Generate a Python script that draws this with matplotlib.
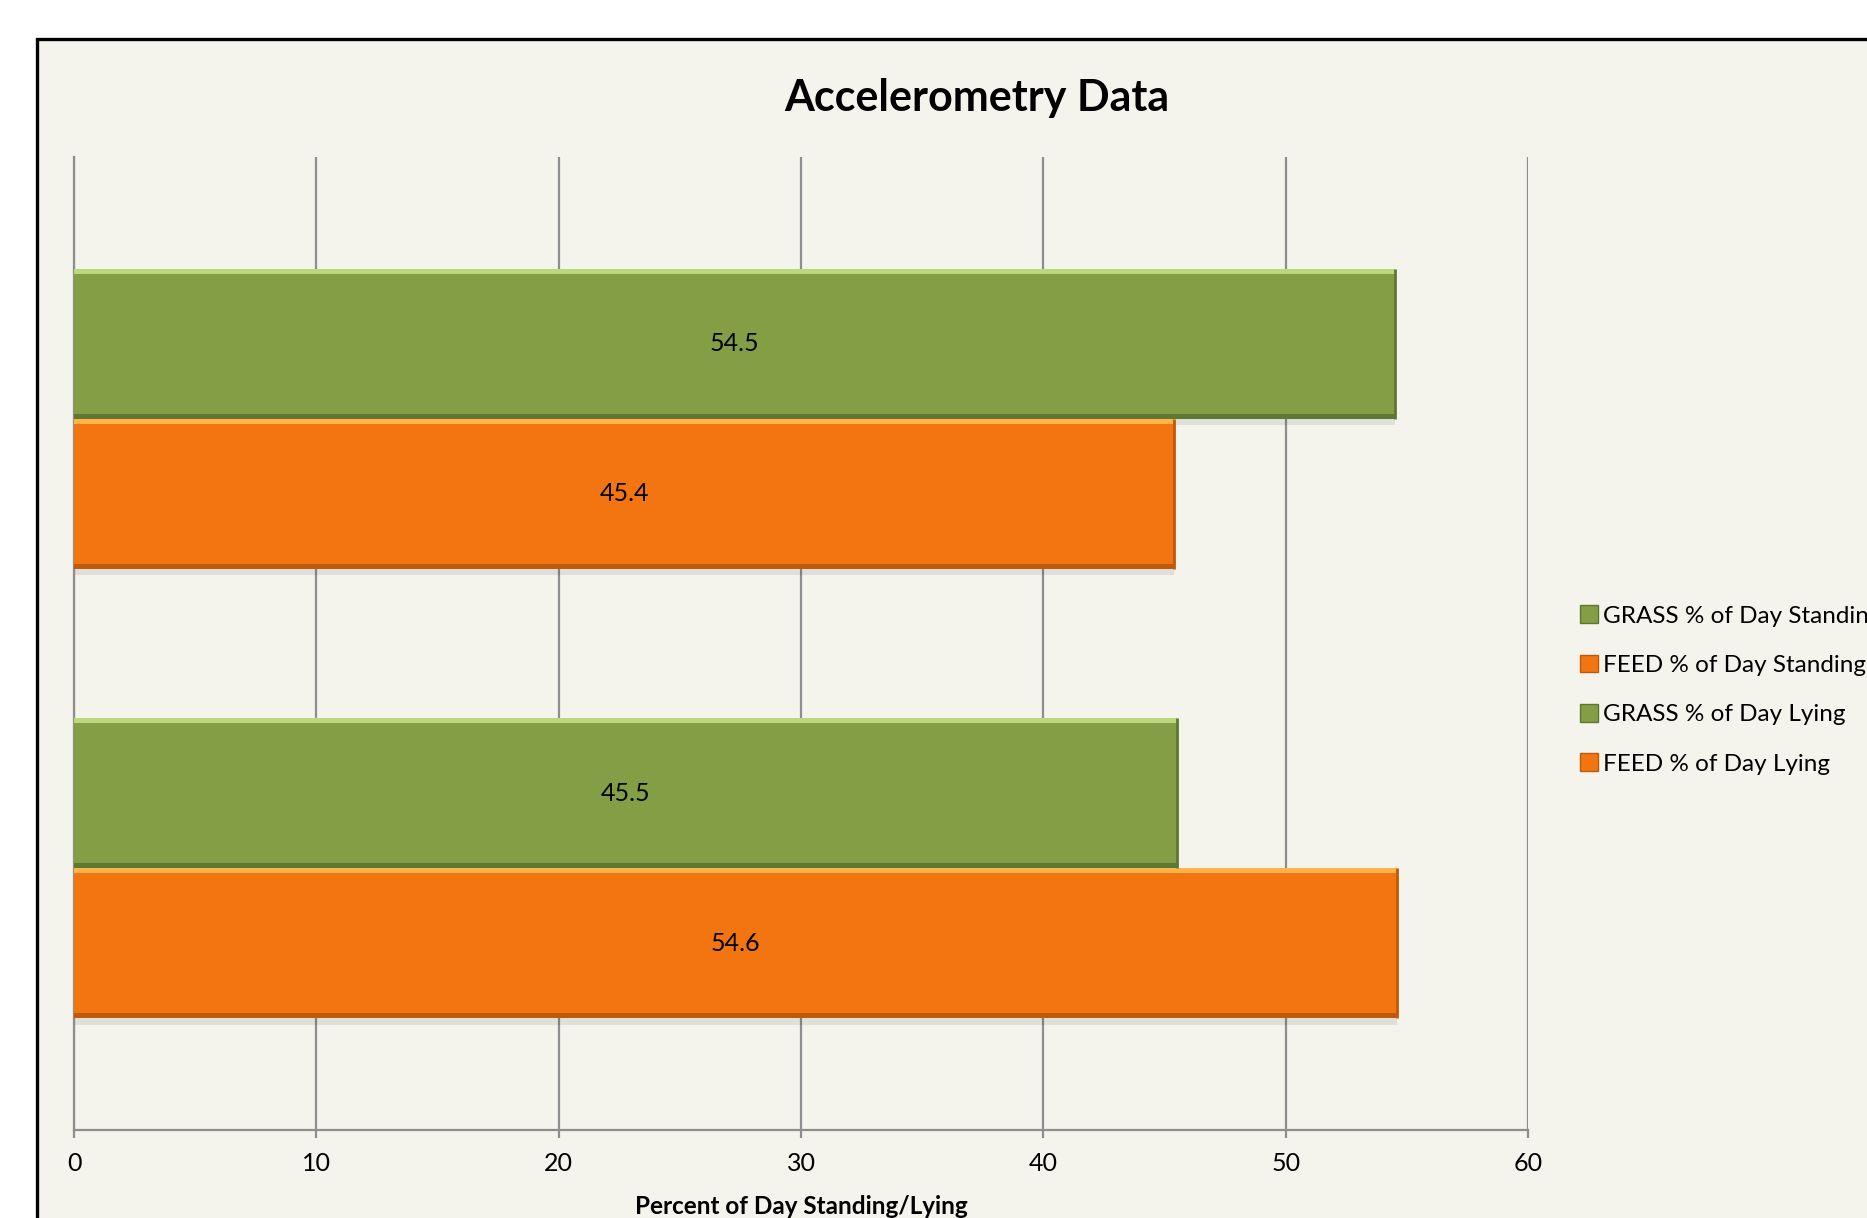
import matplotlib
matplotlib.use("Agg")
import matplotlib.pyplot as plt
from matplotlib.patches import Rectangle, Patch

# values (percent of day)
categories = ["Lying", "Standing"]
grass = [45.5, 54.5]
feed = [54.6, 45.4]
legend_labels = ["GRASS % of Day Standing", "FEED % of Day Standing",
                 "GRASS % of Day Lying", "FEED % of Day Lying"]
xticks = [0, 10, 20, 30, 40, 50, 60]

green = "#839E45"
green_hi = "#BBD97C"
green_lo = "#5E7833"
orange = "#F27511"
orange_hi = "#FFB44A"
orange_lo = "#BF5A0B"
bg = "#F4F3EC"
grid_c = "#8E8E8E"

plt.rcParams["font.family"] = ["Lato", "DejaVu Sans"]

W, H = 1867, 1218
fig = plt.figure(figsize=(W / 100, H / 100), dpi=100)
fig.patch.set_facecolor("white")

# chart area frame (runs off the right and bottom edges)
fig.patches.append(Rectangle((37 / W, -0.1), 1.0, 1 - 39 / H + 0.1,
                             transform=fig.transFigure, facecolor=bg,
                             edgecolor="black", linewidth=2.4, zorder=-10))

ax = fig.add_axes([74 / W, 1 - 1130 / H, (1528 - 74) / W, (1130 - 157) / H])
ax.set_facecolor(bg)

pos = list(range(len(categories)))
h = 0.334
edge = 0.012


def bevel_bar(y, vals, main, hi, lo):
    # soft drop shadow
    ax.barh([p - edge * 1.2 for p in y], vals, height=h, color="#000000",
            alpha=0.08, zorder=2)
    bars = ax.barh(y, vals, height=h, color=main, zorder=3)
    # light upper edge, dark lower edge
    ax.barh([p + h / 2 - edge / 2 for p in y], vals, height=edge, color=hi, zorder=4)
    ax.barh([p - h / 2 + edge / 2 for p in y], vals, height=edge, color=lo, zorder=4)
    for p, v in zip(y, vals):
        ax.vlines(v, p - h / 2, p + h / 2, color=lo, linewidth=2, zorder=5)
    return bars


g_y = [p + h / 2 for p in pos]
f_y = [p - h / 2 for p in pos]
bevel_bar(g_y, grass, green, green_hi, green_lo)
bevel_bar(f_y, feed, orange, orange_hi, orange_lo)

for y, v in zip(g_y + f_y, grass + feed):
    ax.text(v / 2, y, f"{v:.1f}", ha="center", va="center", fontsize=18,
            color="black", zorder=6)

ax.set_xlim(0, 60)
ax.set_ylim(-0.583, 1.583)
ax.set_xticks(xticks)
ax.set_yticks([])
ax.grid(axis="x", color=grid_c, linewidth=1.6, zorder=1)
ax.set_axisbelow(True)
for s in ["top", "right"]:
    ax.spines[s].set_visible(False)
for s in ["left", "bottom"]:
    ax.spines[s].set_color(grid_c)
    ax.spines[s].set_linewidth(1.6)
ax.tick_params(axis="x", direction="out", length=6, width=1.6, color=grid_c,
               pad=10, labelsize=18)

ax.set_xlabel("Percent of Day Standing/Lying", fontsize=17.5, fontweight="bold")
ax.xaxis.set_label_coords(0.5, -0.079)
ax.xaxis.label.set_verticalalignment("center")

fig.text(977 / W, 1 - 98 / H, "Accelerometry Data", ha="center", va="center",
         fontsize=31, fontweight="bold")

handles = [Patch(facecolor=green, edgecolor=green_lo),
           Patch(facecolor=orange, edgecolor=orange_lo),
           Patch(facecolor=green, edgecolor=green_lo),
           Patch(facecolor=orange, edgecolor=orange_lo)]
fig.legend(handles, legend_labels, loc="center left",
           bbox_to_anchor=(1580 / W, 1 - 690 / H), frameon=False,
           fontsize=17.5, handlelength=0.75, handleheight=0.75,
           handletextpad=0.2, labelspacing=1.15, borderpad=0, borderaxespad=0)

fig.savefig("out.png", dpi=100, facecolor=fig.get_facecolor())
